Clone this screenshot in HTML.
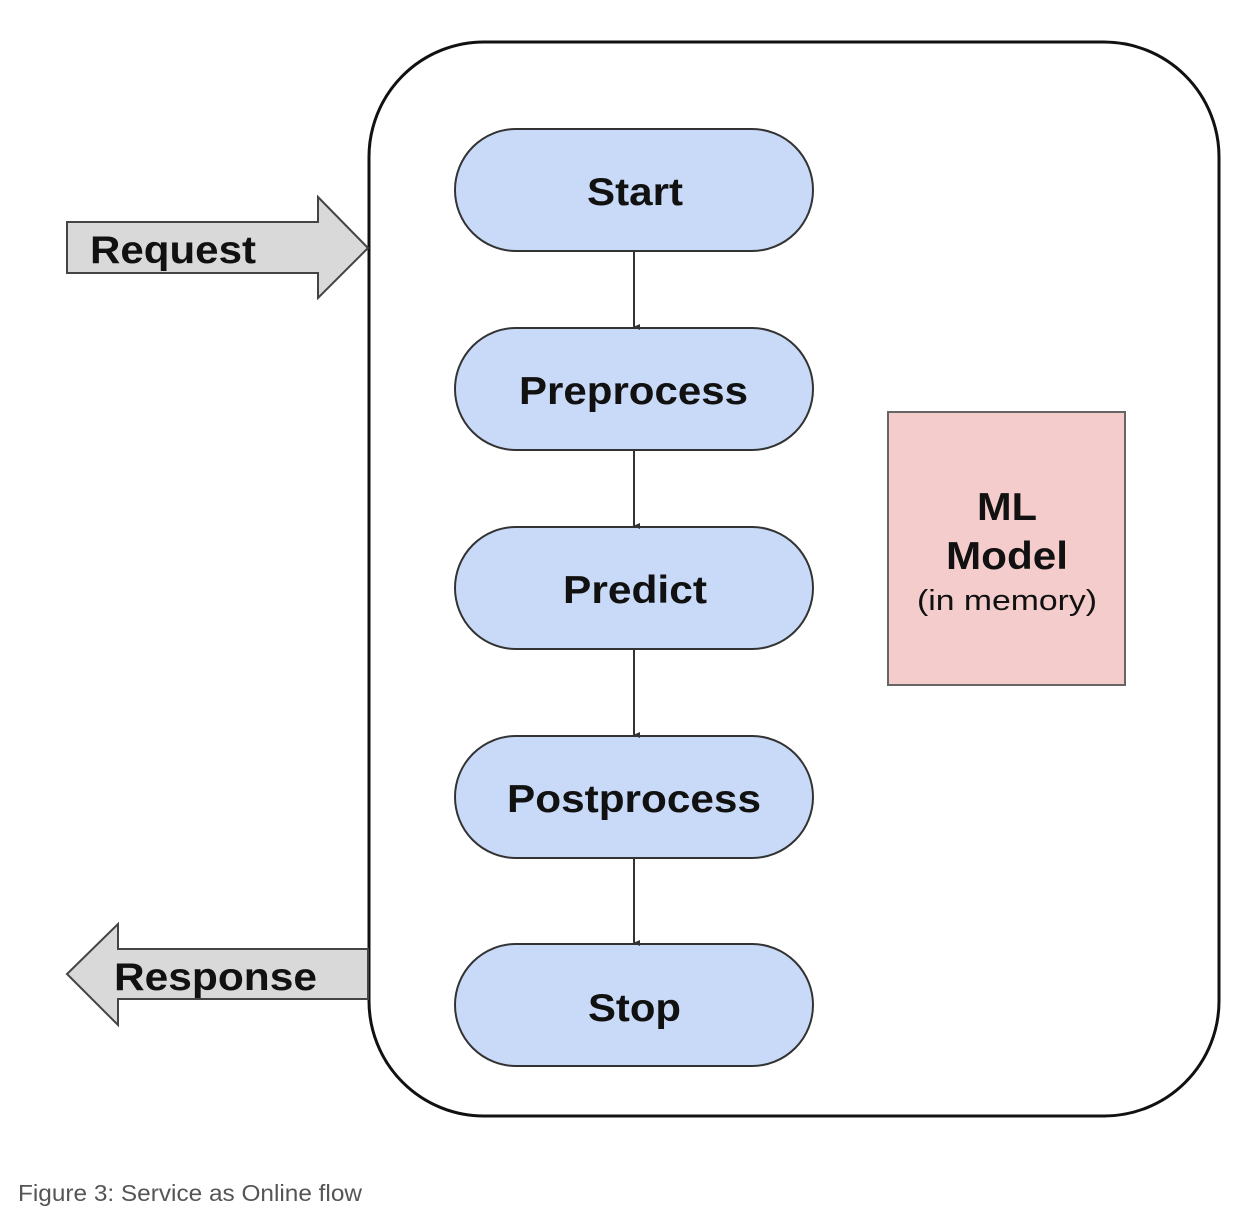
<!DOCTYPE html>
<html><head><style>body{margin:0;background:#fff}</style></head><body>
<svg width="1244" height="1218" xmlns="http://www.w3.org/2000/svg" style="display:block">
<defs><marker id="a" markerWidth="8" markerHeight="8" refX="4" refY="7" orient="auto" markerUnits="userSpaceOnUse"><path d="M1,1 L4,8 L7,1 Z" fill="#333"/></marker></defs>
<rect x="369" y="42" width="850" height="1074" rx="115" fill="#fff" stroke="#111" stroke-width="3"/>
<path d="M67,222 H318 V197 L368,248 L318,298 V273 H67 Z" fill="#d9d9d9" stroke="#444" stroke-width="2"/>
<text x="90" y="263" font-family="Liberation Sans" font-weight="bold" font-size="39" fill="#111" textLength="166" lengthAdjust="spacingAndGlyphs">Request</text>
<path d="M368,949 H118 V924 L67,974 L118,1025 V999 H368 Z" fill="#d9d9d9" stroke="#444" stroke-width="2"/>
<text x="114" y="990" font-family="Liberation Sans" font-weight="bold" font-size="39" fill="#111" textLength="203" lengthAdjust="spacingAndGlyphs">Response</text>
<g fill="#c9daf8" stroke="#333" stroke-width="2">
<rect x="455" y="129" width="358" height="122" rx="61"/>
<rect x="455" y="328" width="358" height="122" rx="61"/>
<rect x="455" y="527" width="358" height="122" rx="61"/>
<rect x="455" y="736" width="358" height="122" rx="61"/>
<rect x="455" y="944" width="358" height="122" rx="61"/>
</g>
<g stroke="#333" stroke-width="2" marker-end="url(#a)">
<line x1="634" y1="251" x2="634" y2="327"/>
<line x1="634" y1="450" x2="634" y2="526"/>
<line x1="634" y1="649" x2="634" y2="735"/>
<line x1="634" y1="858" x2="634" y2="943"/>
</g>
<g font-family="Liberation Sans" font-weight="bold" font-size="39" fill="#111" lengthAdjust="spacingAndGlyphs">
<text x="587" y="205" textLength="96" lengthAdjust="spacingAndGlyphs">Start</text>
<text x="519" y="404" textLength="229" lengthAdjust="spacingAndGlyphs">Preprocess</text>
<text x="563" y="603" textLength="144" lengthAdjust="spacingAndGlyphs">Predict</text>
<text x="507" y="812" textLength="254" lengthAdjust="spacingAndGlyphs">Postprocess</text>
<text x="588" y="1021" textLength="93" lengthAdjust="spacingAndGlyphs">Stop</text>
</g>
<rect x="888" y="412" width="237" height="273" fill="#f4cccc" stroke="#666" stroke-width="2"/>
<g font-family="Liberation Sans" fill="#111">
<text x="977" y="520" font-weight="bold" font-size="39" textLength="60" lengthAdjust="spacingAndGlyphs">ML</text>
<text x="946" y="569" font-weight="bold" font-size="39" textLength="122" lengthAdjust="spacingAndGlyphs">Model</text>
<text x="917" y="610" font-size="29" textLength="180" lengthAdjust="spacingAndGlyphs">(in memory)</text>
</g>
<text x="18" y="1201" font-family="Liberation Sans" font-size="23" fill="#555" textLength="344" lengthAdjust="spacingAndGlyphs">Figure 3: Service as Online flow</text>
</svg>
</body></html>
